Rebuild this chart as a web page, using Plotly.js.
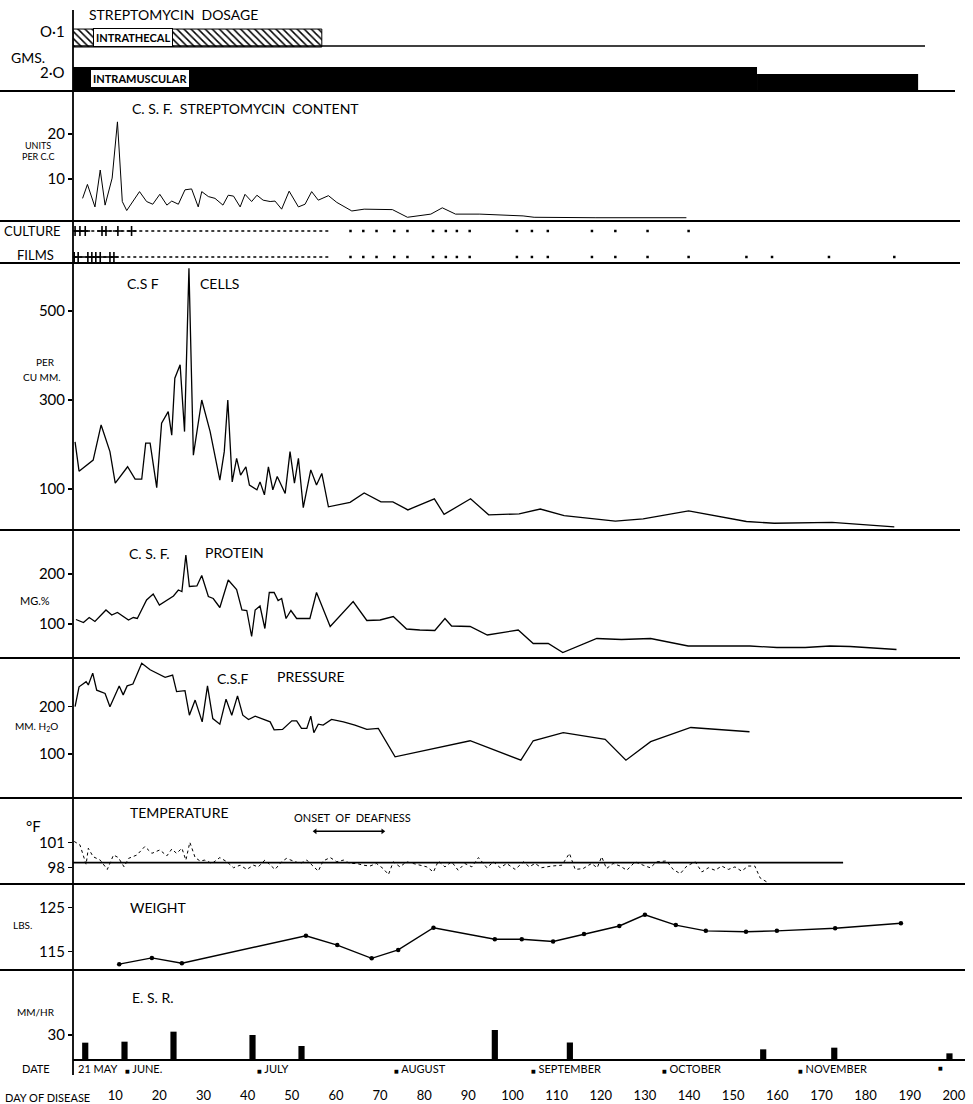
<!DOCTYPE html>
<html><head><meta charset="utf-8">
<script src="https://cdn.plot.ly/plotly-3.0.1.min.js"></script>
<style>html,body{margin:0;padding:0;background:#fff}#chart{width:973px;height:1104px}</style>
</head><body><div id="chart"></div>
<script>
// ================= DATA =================
// Streptomycin dosage (days of disease)
const dosageRoute = ['Intrathecal', 'Intramuscular', 'Intramuscular'];
const dosageStartDay = [0.4, 0.4, 155.4];
const dosageEndDay = [56.8, 155.4, 191.9];

// C.S.F. streptomycin content (units per c.c.)
const contentDay = [2.6,3.7,5.4,6.6,7.7,9.3,10.5,11.6,12.6,15.5,17.1,18.5,20.1,21.7,22.8,24.3,25.8,27.3,28.8,29.6,31.1,32.6,34.4,35.6,36.8,38.3,39.4,40.9,42.1,43.5,45.1,46.2,47.7,49.4,51.5,53.0,54.5,56.0,58.3,60.2,63.6,66.4,72.8,76.2,81.5,84.1,87.1,92.6,102.4,104.9,118.9,131.6,139.4];
const contentUnits = [5.7,8.8,3.8,12,4.2,10.2,22.7,5,3,7.2,5,4.4,6.6,4.2,5.1,4.4,7.6,7.8,3.8,7.2,6.1,5.7,4.2,6.4,6.2,3.8,6.6,5,6.4,5.3,5,5.1,3.3,7.3,3.8,4.4,7.2,5.3,6.3,4.8,2.9,3.3,3.2,1.5,2.2,3.6,2.2,2.2,1.8,1.5,1.4,1.5,1.4];

// Culture / films
const dailyTestPeriod = [0.5, 58.7];
const culturePositiveDay = [0.9, 2.0, 3.2, 7.0, 7.9, 10.6, 13.7];
const filmsPositiveDay = [0.7, 1.6, 3.8, 4.7, 5.6, 6.6, 8.8, 9.7];
const cultureNegativeDay = [63.3,66.2,69.2,73.2,76.2,82.0,84.9,87.4,90.3,101.0,104.4,108.0,118.0,123.3,130.6,139.9];
const filmsNegativeDay = [63.3,66.2,69.2,73.2,76.2,82.0,84.9,87.4,90.3,101.0,104.4,108.0,118.0,123.3,130.6,139.9,153.0,158.8,171.7,186.5];

// C.S.F. cells (per cu. mm.)
const cellsDay = [0.9,1.8,5.0,6.8,8.8,10.0,12.8,14.5,16.0,16.9,17.9,19.4,20.5,22.0,22.8,23.5,24.7,25.7,26.7,27.7,29.6,31.5,33.7,34.7,35.5,36.5,37.5,38.4,39.6,40.4,42.1,42.8,43.8,44.7,45.7,46.7,48.5,49.6,50.6,51.5,52.6,54.3,55.6,56.8,58.3,63.2,66.4,70.2,72.9,76.3,82.3,84.5,90.5,94.6,101.5,106.3,111.7,118.9,123.3,129.6,139.9,153.0,159.3,172.4,186.5];
const cellsCount = [206,140,165,244,184,113,150,122,122,203,203,103,248,274,221,349,379,229,596,176,300,229,120,184,300,116,169,131,150,109,98,116,87,150,98,128,90,184,113,169,58,143,109,135,60,70,91,71,71,53,78,43,78,42,44,55,40,32,28,33,51,27,23,25,15];

// C.S.F. protein (mg. %)
const proteinDay = [1.1,2.8,4.1,5.4,7.9,9.2,10.5,13.0,14.1,15.0,17.1,18.6,20.0,21.7,23.2,24.3,25.1,26.0,26.8,28.5,29.6,31.1,32.2,33.7,35.6,37.5,38.7,39.8,40.9,41.7,42.8,43.9,44.9,46.0,46.9,47.7,48.7,49.8,51.1,54.1,55.6,58.7,63.9,67.0,70.0,73.0,76.0,79.0,82.4,84.7,86.2,90.4,94.3,101.3,104.7,108.1,111.4,119.1,124.7,131.3,139.8,147.0,153.8,159.9,166.3,171.9,176.5,187.0];
const proteinMg = [109,103,113,105,128,118,123,108,113,111,148,160,138,147,156,168,165,238,175,176,197,155,151,133,188,169,128,127,75,128,136,91,163,163,147,151,111,127,111,111,163,95,145,107,108,115,90,88,87,111,96,95,78,88,61,61,43,71,69,71,56,56,56,53,53,56,55,49];

// C.S.F. pressure (mm. H2O)
const pressureDay = [0.9,1.8,3.4,3.9,4.9,5.8,7.7,8.8,10.9,11.8,12.7,14.0,16.0,17.9,21.3,23.0,23.9,25.8,26.8,28.1,29.7,30.9,32.1,33.7,35.1,36.4,37.7,38.9,40.2,41.7,45.1,46.0,47.9,50.0,51.1,52.2,53.4,54.3,55.0,56.0,57.1,59.0,61.7,64.3,67.0,69.6,73.4,90.4,101.9,104.7,111.5,118.7,121.0,125.7,131.3,140.4,153.7];
const pressureMm = [200,242,253,246,271,235,228,200,244,225,244,248,292,278,262,267,232,234,182,214,168,244,175,163,216,182,223,182,173,180,168,151,152,170,170,154,154,180,145,163,161,173,168,161,152,154,94,128,87,128,145,135,131,87,126,156,147];

// Temperature (deg F)
const tempDay = [0.7,2.0,3.4,3.9,5.0,6.6,8.2,9.6,10.7,12.0,
 13.0,14.9,16.7,18.3,20.1,21.7,22.8,23.9,25.1,26.0,
 26.9,28.1,29.2,30.3,31.9,33.7,35.3,36.8,38.3,39.8,
 41.3,42.4,43.9,45.1,46.2,47.7,48.8,50.3,51.9,53.4,
 54.9,56.0,57.1,58.7,60.2,61.7,63.2,64.7,66.2,67.7,
 69.2,70.7,71.9,73.0,74.5,76.0,77.5,79.0,80.6,82.1,
 83.2,84.7,86.2,87.7,89.2,90.8,92.3,94.2,95.7,97.2,
 98.7,100.6,102.5,103.8,105.1,106.6,108.9,111.2,112.9,114.2,
 116.0,117.9,119.2,120.2,121.3,122.8,124.4,125.9,127.8,129.6,
 131.2,132.7,134.9,136.4,138.0,139.5,141.4,142.9,144.4,145.9,
 147.4,148.9,150.4,151.9,153.4,154.9,156.1,158.0];
const tempF = [101.1,100.7,98.4,100.3,99.3,98.9,97.8,99.5,99.2,98.1,
 99.1,99.5,100.5,99.7,100.1,99.4,100.2,99.7,100.3,98.9,
 101.0,99.2,98.8,98.9,98.5,99.2,98.7,98.0,98.3,97.8,
 98.3,98.1,98.9,98.3,97.8,98.7,99.1,98.8,98.5,98.9,
 98.2,97.6,98.8,99.2,98.7,98.9,98.5,98.5,98.3,98.2,
 98.5,97.9,97.2,98.7,98.1,98.7,98.5,98.3,98.1,97.5,
 98.8,98.1,98.7,97.7,98.5,98.1,99.2,98.0,98.7,98.0,
 98.5,97.8,98.7,98.1,98.5,98.0,98.2,98.3,99.7,97.8,
 97.9,98.5,98.0,99.3,97.9,98.5,98.2,97.7,98.7,98.3,
 98.0,98.7,98.8,97.8,97.3,98.2,98.7,97.5,98.0,97.7,
 98.2,97.8,98.1,97.6,98.2,98.2,96.8,96.2];
const normalTempDay = [0.4, 174.9];
const normalTempF = [98.6, 98.6];
const deafnessOnsetDay = [55.3, 70.6];

// Weight (lbs.)
const weightDay = [10.9,18.3,25.1,53.2,60.3,68.1,74.1,82.1,96.0,102.1,109.2,116.2,124.2,130.0,137.0,143.8,152.9,159.9,173.1,188.0];
const weightLbs = [112.2,113.6,112.4,118.6,116.5,113.5,115.4,120.4,117.8,117.8,117.3,119.0,120.8,123.3,121.0,119.7,119.5,119.7,120.3,121.4];

// E.S.R. (mm/hr)
const esrDay = [3.2,12.1,23.2,41.1,52.2,96.0,113.0,156.8,172.9,199.0];
const esrMmHr = [20.8,22,34,30,16.8,36,21,12.8,14.8,8];

// Dates and day-of-disease ticks
const monthDay = [12.2, 42.1, 73.2, 104.1, 133.9, 164.7, 196.5];
const monthLabel = ['JUNE.', 'JULY', 'AUGUST', 'SEPTEMBER', 'OCTOBER', 'NOVEMBER', ''];
const dayTicks = [10,20,30,40,50,60,70,80,90,100,110,120,130,140,150,160,170,180,190,200];

// ================= LAYOUT HELPERS (style only) =================
const W = 973, H = 1104, ML = 73, MR = 8, MT = 10, MB = 44;
const PW = W - ML - MR, PH = H - MT - MB;
const fx = p => (p - ML) / PW;
const fy = p => (H - MB - p) / PH;
const FONT = 'Lato, "Open Sans", "DejaVu Sans", sans-serif';
const K = '#000';

function ann(text, x, y, size, xa, extra) {
  return Object.assign({text: text, xref: 'paper', yref: 'paper', x: fx(x), y: fy(y),
    xanchor: xa || 'left', yanchor: 'middle', showarrow: false,
    font: {family: FONT, size: size || 14, color: K}}, extra || {});
}
function yax(top, bottom, range, ticks, extra) {
  return Object.assign({domain: [fy(bottom), fy(top)], range: range, anchor: 'x',
    tickvals: ticks || [], ticks: ticks ? 'outside' : '', ticklen: 4, tickwidth: 1.5, tickcolor: K,
    showgrid: false, zeroline: false, showline: false, fixedrange: true,
    showticklabels: !!ticks, tickfont: {family: FONT, size: 15, color: K}}, extra || {});
}

// ================= TRACES =================
const common = {xaxis: 'x', hoverinfo: 'skip', showlegend: false};
const traces = [];

// Dosage bars
const itIdx = dosageRoute.map((r, i) => r === 'Intrathecal' ? i : -1).filter(i => i >= 0);
const imIdx = dosageRoute.map((r, i) => r === 'Intramuscular' ? i : -1).filter(i => i >= 0);
traces.push(Object.assign({}, common, {type: 'bar', orientation: 'h', yaxis: 'y',
  base: itIdx.map(i => dosageStartDay[i]), x: itIdx.map(i => dosageEndDay[i] - dosageStartDay[i]),
  y: itIdx.map(() => 0.654), width: 0.222,
  marker: {color: '#fff', line: {color: K, width: 1}, pattern: {shape: '\\', fgcolor: K, bgcolor: '#fff', size: 5, solidity: 0.3}}}));
traces.push(Object.assign({}, common, {type: 'bar', orientation: 'h', yaxis: 'y',
  base: imIdx.map(i => dosageStartDay[i]), x: imIdx.map(i => dosageEndDay[i] - dosageStartDay[i]),
  y: [0.154, 0.111], width: [0.284, 0.198],
  marker: {color: K, line: {width: 0}}}));

// Content
traces.push(Object.assign({}, common, {type: 'scatter', mode: 'lines', yaxis: 'y2',
  x: contentDay, y: contentUnits, line: {color: K, width: 1}}));

// Culture / films
traces.push(Object.assign({}, common, {type: 'scatter', mode: 'lines', yaxis: 'y3',
  x: dailyTestPeriod, y: [0.762, 0.762], line: {color: K, width: 1.3, dash: 'dot'}}));
traces.push(Object.assign({}, common, {type: 'scatter', mode: 'lines', yaxis: 'y3',
  x: dailyTestPeriod, y: [0.143, 0.143], line: {color: K, width: 1.3, dash: 'dot'}}));
traces.push(Object.assign({}, common, {type: 'scatter', mode: 'markers', yaxis: 'y3',
  x: culturePositiveDay, y: culturePositiveDay.map(() => 0.762),
  marker: {symbol: 'cross-thin-open', size: 7, color: K, line: {color: K, width: 1.6}}}));
traces.push(Object.assign({}, common, {type: 'scatter', mode: 'markers', yaxis: 'y3',
  x: filmsPositiveDay, y: filmsPositiveDay.map(() => 0.143),
  marker: {symbol: 'cross-thin-open', size: 7, color: K, line: {color: K, width: 1.6}}}));
traces.push(Object.assign({}, common, {type: 'scatter', mode: 'markers', yaxis: 'y3',
  x: cultureNegativeDay, y: cultureNegativeDay.map(() => 0.762),
  marker: {symbol: 'square', size: 2.5, color: K}}));
traces.push(Object.assign({}, common, {type: 'scatter', mode: 'markers', yaxis: 'y3',
  x: filmsNegativeDay, y: filmsNegativeDay.map(() => 0.143),
  marker: {symbol: 'square', size: 2.5, color: K}}));

// Cells
traces.push(Object.assign({}, common, {type: 'scatter', mode: 'lines', yaxis: 'y4',
  x: cellsDay, y: cellsCount, line: {color: K, width: 1.3}}));
// Protein
traces.push(Object.assign({}, common, {type: 'scatter', mode: 'lines', yaxis: 'y5',
  x: proteinDay, y: proteinMg, line: {color: K, width: 1.3}}));
// Pressure
traces.push(Object.assign({}, common, {type: 'scatter', mode: 'lines', yaxis: 'y6',
  x: pressureDay, y: pressureMm, line: {color: K, width: 1.3}}));
// Temperature
traces.push(Object.assign({}, common, {type: 'scatter', mode: 'lines', yaxis: 'y7',
  x: normalTempDay, y: normalTempF, line: {color: K, width: 1.8}}));
traces.push(Object.assign({}, common, {type: 'scatter', mode: 'lines', yaxis: 'y7',
  x: tempDay, y: tempF, line: {color: K, width: 1, dash: 'dot'}}));
traces.push(Object.assign({}, common, {type: 'scatter', mode: 'lines+markers', yaxis: 'y7',
  x: deafnessOnsetDay, y: [102.3, 102.3], line: {color: K, width: 1.5},
  marker: {symbol: ['triangle-left', 'triangle-right'], size: 5, color: K}}));
// Weight
traces.push(Object.assign({}, common, {type: 'scatter', mode: 'lines+markers', yaxis: 'y8',
  x: weightDay, y: weightLbs, line: {color: K, width: 1.4}, marker: {size: 4.5, color: K}}));
// ESR
traces.push(Object.assign({}, common, {type: 'bar', yaxis: 'y9',
  x: esrDay, y: esrMmHr, width: 1.4, marker: {color: K, line: {width: 0}}}));

// ================= SHAPES =================
const shapes = [];
function hline(y, x0, x1, w) {
  shapes.push({type: 'line', xref: 'paper', yref: 'paper', x0: fx(x0), x1: fx(x1), y0: fy(y), y1: fy(y),
    line: {color: K, width: w || 1.8}});
}
hline(91, 0, 955); hline(46, 73, 925, 1.4);
hline(221, 0, 960); hline(263, 0, 960); hline(530, 0, 960); hline(658, 0, 960);
hline(798, 0, 962); hline(884, 0, 965); hline(970, 0, 965); hline(1060, 73, 965);
shapes.push({type: 'line', xref: 'paper', yref: 'paper', x0: 0, x1: 0, y0: fy(10), y1: fy(1075),
  line: {color: K, width: 1.8}});

// ================= ANNOTATIONS =================
const boxed = {bgcolor: '#fff', bordercolor: K, borderwidth: 1, borderpad: 2};
const annotations = [
  ann('STREPTOMYCIN  DOSAGE', 87, 15, 14),
  ann('O·1', 67, 31, 15, 'right'),
  ann('GMS.', 9, 57, 14),
  ann('2·O', 67, 72, 15, 'right'),
  ann('<b>INTRATHECAL</b>', 133, 38, 11, 'center', boxed),
  ann('<b>INTRAMUSCULAR</b>', 140, 78, 11, 'center', boxed),
  ann('C. S. F.  STREPTOMYCIN  CONTENT', 130, 108, 14),
  ann('UNITS', 38, 146, 9, 'center'),
  ann('PER C.C', 38, 156, 9, 'center'),
  ann('CULTURE', 2, 231, 13),
  ann('FILMS', 15, 255, 13),
  ann('C.S F', 125, 283, 14),
  ann('CELLS', 198, 283, 14),
  ann('PER', 45, 362, 10, 'center'),
  ann('CU MM.', 42, 377, 10, 'center'),
  ann('C. S. F.', 127, 553, 14),
  ann('PROTEIN', 203, 552, 14),
  ann('MG.%', 18, 600, 11),
  ann('C.S.F', 215, 678, 14),
  ann('PRESSURE', 275, 677, 14),
  ann('MM. H<sub>2</sub>O', 13, 726, 10),
  ann('TEMPERATURE', 128, 812, 14),
  ann('ONSET  OF  DEAFNESS', 352, 817, 11, 'center'),
  ann('°F', 24, 826, 15),
  ann('WEIGHT', 128, 907, 14),
  ann('LBS.', 11, 925, 10),
  ann('E. S. R.', 130, 997, 14),
  ann('MM/HR', 15, 1012, 10),
  ann('DATE', 20, 1068, 11),
  ann('21 MAY', 76, 1068, 11),
  ann('DAY OF DISEASE', 3, 1097, 11)
];
// Month markers (day positions from data)
monthDay.forEach((d, i) => {
  annotations.push({xref: 'x', yref: 'paper', x: d, y: fy(1068), xanchor: 'left', yanchor: 'middle',
    xshift: -2, showarrow: false,
    text: '<span style="font-size:5px">■</span>' + (monthLabel[i] ? ' ' + monthLabel[i] : ''),
    font: {family: FONT, size: 11, color: K}});
});

// ================= LAYOUT =================
const layout = {
  width: W, height: H, margin: {l: ML, r: MR, t: MT, b: MB},
  paper_bgcolor: '#fff', plot_bgcolor: 'rgba(0,0,0,0)',
  font: {family: FONT, color: K}, barmode: 'overlay', showlegend: false,
  xaxis: {domain: [0, 1], anchor: 'y9', range: [0.43, 202.52], tickvals: dayTicks, ticks: '',
    showgrid: false, zeroline: false, showline: false, fixedrange: true,
    ticklabelstandoff: 26, tickfont: {family: FONT, size: 13, color: K}},
  yaxis: yax(10, 91, [0, 1], null, {visible: false}),
  yaxis2: yax(91, 221, [0.67, 29.56], [10, 20]),
  yaxis3: yax(221, 263, [0, 1], null, {visible: false}),
  yaxis4: yax(263, 530, [7.87, 607.9], [100, 300, 500]),
  yaxis5: yax(530, 658, [32, 288], [100, 200]),
  yaxis6: yax(658, 798, [6.98, 302.96], [100, 200]),
  yaxis7: yax(798, 884, [96.08, 106.23], [98, 101]),
  yaxis8: yax(884, 970, [110.88, 130.25], [115, 125]),
  yaxis9: yax(970, 1060, [0, 108], [30]),
  shapes: shapes, annotations: annotations
};

Plotly.newPlot('chart', traces, layout, {staticPlot: true, displayModeBar: false});
</script>
</body></html>
